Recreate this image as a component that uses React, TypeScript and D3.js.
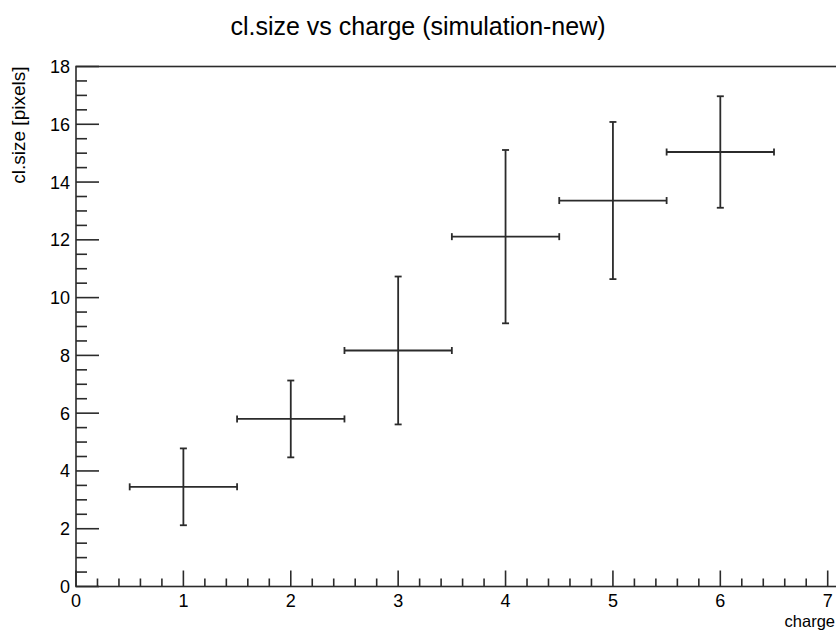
import { scaleLinear, range } from "d3";

const charges = [1, 2, 3, 4, 5, 6];
const chargeErr = [0.5, 0.5, 0.5, 0.5, 0.5, 0.5];
const clSize = [3.45, 5.8, 8.17, 12.11, 13.36, 15.04];
const clSizeErr = [1.33, 1.33, 2.56, 3.0, 2.72, 1.93];

const xMajor = [0, 1, 2, 3, 4, 5, 6, 7];
const yMajor = [0, 2, 4, 6, 8, 10, 12, 14, 16, 18];

const title = "cl.size vs charge (simulation-new)";
const xTitle = "charge";
const yTitle = "cl.size [pixels]";

export default function App() {
  const width = 836;
  const height = 632;
  const left = 76;
  const top = 66.5;
  const bottom = 586.5;
  const xMax = 7.12;
  const x = scaleLinear().domain([0, 7]).range([left, 827.7]);
  const y = scaleLinear().domain([0, 18]).range([bottom, top]);
  const right = x(xMax);
  const stroke = "#2b2b2b";
  const font = "'Liberation Sans', Arial, sans-serif";

  const xMinor = range(0, 7.08, 0.2).filter((v) => Math.abs(v - Math.round(v)) > 1e-6);
  const yMinor = range(0, 18 + 1e-9, 0.5).filter((v) => Math.abs(v / 2 - Math.round(v / 2)) > 1e-6);

  return (
    <svg
      width={width}
      height={height}
      style={{ position: "absolute", left: 0, top: 0, background: "#fff" }}
      fontFamily={font}
    >
      <text x={width / 2} y={35} textAnchor="middle" fontSize={25} fill="#000">
        {title}
      </text>

      <rect x={left} y={top} width={right - left} height={bottom - top} fill="none" stroke={stroke} strokeWidth={1.6} />

      {/* x axis ticks */}
      {xMajor.map((v) => (
        <g key={`xm${v}`}>
          <line x1={x(v)} x2={x(v)} y1={bottom} y2={bottom - 16} stroke={stroke} strokeWidth={1.6} />
          <text x={x(v)} y={607} textAnchor="middle" fontSize={18} fill="#000">
            {v}
          </text>
        </g>
      ))}
      {xMinor.map((v) => (
        <line key={`xn${v}`} x1={x(v)} x2={x(v)} y1={bottom} y2={bottom - 8} stroke={stroke} strokeWidth={1.6} />
      ))}

      {/* y axis ticks */}
      {yMajor.map((v) => (
        <g key={`ym${v}`}>
          <line x1={left} x2={left + 23} y1={y(v)} y2={y(v)} stroke={stroke} strokeWidth={1.6} />
          <text x={70} y={y(v)} dy="0.36em" textAnchor="end" fontSize={18} fill="#000">
            {v}
          </text>
        </g>
      ))}
      {yMinor.map((v) => (
        <line key={`yn${v}`} x1={left} x2={left + 11} y1={y(v)} y2={y(v)} stroke={stroke} strokeWidth={1.6} />
      ))}

      <text x={835} y={627} textAnchor="end" fontSize={16.5} fill="#000">
        {xTitle}
      </text>
      <text
        transform={`translate(25, ${top}) rotate(-90)`}
        textAnchor="end"
        fontSize={19}
        fill="#000"
      >
        {yTitle}
      </text>

      {/* error crosses */}
      {charges.map((c, i) => {
        const cx = x(c);
        const cy = y(clSize[i]);
        const x0 = x(c - chargeErr[i]);
        const x1 = x(c + chargeErr[i]);
        const y0 = y(clSize[i] - clSizeErr[i]);
        const y1 = y(clSize[i] + clSizeErr[i]);
        return (
          <g key={c} stroke={stroke} strokeWidth={1.8}>
            <line x1={x0} x2={x1} y1={cy} y2={cy} />
            <line x1={cx} x2={cx} y1={y0} y2={y1} />
            <line x1={x0} x2={x0} y1={cy - 3.5} y2={cy + 3.5} />
            <line x1={x1} x2={x1} y1={cy - 3.5} y2={cy + 3.5} />
            <line x1={cx - 3.5} x2={cx + 3.5} y1={y0} y2={y0} />
            <line x1={cx - 3.5} x2={cx + 3.5} y1={y1} y2={y1} />
          </g>
        );
      })}
    </svg>
  );
}
